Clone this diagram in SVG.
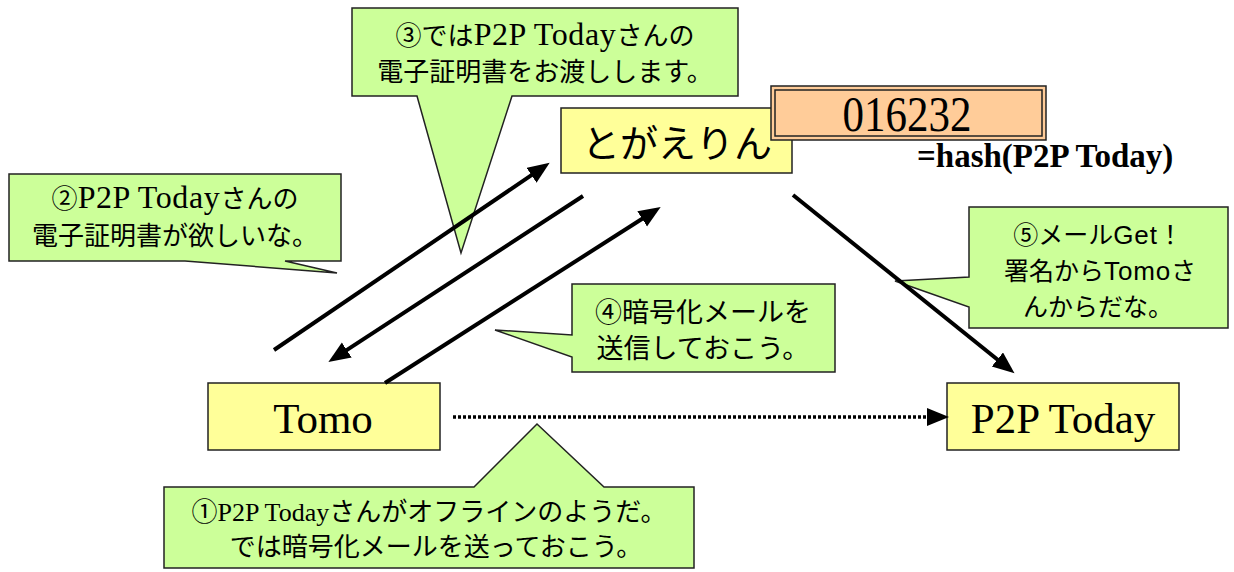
<svg xmlns="http://www.w3.org/2000/svg" width="1234" height="572" viewBox="0 0 1234 572">
<defs>
<style>
.callout{fill:#CCFF99;stroke:#222;stroke-width:1.5;stroke-linejoin:miter}
.node{fill:#FFFF99;stroke:#222;stroke-width:1.5}
.mix{font-family:"Liberation Serif","Noto Sans CJK JP",serif;font-size:26px;fill:#000;text-anchor:middle}
.wide{font-size:32px;letter-spacing:0.6px}
.jp{font-family:"Noto Sans CJK JP","Liberation Sans",sans-serif;font-size:26px;fill:#000;text-anchor:middle}
.lat{font-family:"Liberation Sans",sans-serif;font-size:26px;letter-spacing:0.8px}
.big{font-family:"Liberation Serif",serif;font-size:43px;fill:#000;text-anchor:middle}
.arrow{stroke:#000;stroke-width:4;fill:none;marker-end:url(#ah)}
.dotted{stroke:#000;stroke-width:3.5;stroke-dasharray:3 2;fill:none;marker-end:url(#ah)}
</style>
<marker id="ah" markerUnits="userSpaceOnUse" markerWidth="24" markerHeight="20" refX="8" refY="9" orient="auto">
<path d="M0,0 L22,9 L0,18 z" fill="#000"/>
</marker>
</defs>
<rect width="1234" height="572" fill="#fff"/>

<g id="callout3">
<path class="callout" d="M352,8 H738 V96 H512 L461,253 L417,96 H352 Z"/>
<text class="mix" x="545" y="45">③では<tspan class="wide">P2P Today</tspan>さんの</text>
<text class="mix" x="545" y="81">電子証明書をお渡しします。</text>
</g>

<g id="callout2">
<path class="callout" d="M9,174 H341 V261 H285 L337,273 L185,261 H9 Z"/>
<text class="mix" x="175" y="208">②<tspan class="wide">P2P Today</tspan>さんの</text>
<text class="mix" x="175" y="245">電子証明書が欲しいな。</text>
</g>

<g id="callout4">
<path class="callout" d="M572,284 H835 V372 H572 V357 L495,330 L572,335 Z"/>
<text class="jp" x="703" y="322" style="font-size:27px">④暗号化メールを</text>
<text class="jp" x="703" y="358" style="font-size:27px">送信しておこう。</text>
</g>

<g id="callout5">
<path class="callout" d="M969,207 H1228 V328 H969 V307 L895,281 L969,277 Z"/>
<text class="jp" x="1098" y="244" style="font-size:25px">⑤メール<tspan class="lat">Get</tspan>！</text>
<text class="jp" x="1100" y="280" style="font-size:25px">署名から<tspan class="lat">Tomo</tspan>さ</text>
<text class="jp" x="1098" y="316" style="font-size:25px">んからだな。</text>
</g>

<g id="callout1">
<path class="callout" d="M164,487 H474 L537,424 L604,487 H694 V568 H164 Z"/>
<text class="mix" x="429" y="521">①P2P Todayさんがオフラインのようだ。</text>
<text class="mix" x="436" y="556">では暗号化メールを送っておこう。</text>
</g>

<g id="togaerin">
<rect class="node" x="561" y="108" width="231" height="65"/>
<text class="jp" x="677" y="157" style="font-size:38px">とがえりん</text>
</g>

<g id="hash">
<rect x="771" y="86" width="275" height="54" fill="#FFCC99" stroke="#222" stroke-width="1.5"/>
<rect x="775" y="90" width="267" height="46" fill="none" stroke="#222" stroke-width="1.5"/>
<text class="big" transform="translate(907,131) scale(1,1.2)" x="0" y="0">016232</text>
<text x="917" y="167" style="font-family:'Liberation Serif',serif;font-weight:bold;font-size:33px;fill:#000">=hash(P2P Today)</text>
</g>

<g id="tomo">
<rect class="node" x="208" y="383" width="232" height="67"/>
<text class="big" x="323" y="433">Tomo</text>
</g>

<g id="p2ptoday">
<rect class="node" x="947" y="383" width="232" height="67"/>
<text class="big" x="1063" y="433">P2P Today</text>
</g>

<g id="connectors">
<line class="arrow" x1="274" y1="350" x2="538.1" y2="170.7"/>
<line class="arrow" x1="583" y1="196" x2="340.1" y2="354.4"/>
<line class="arrow" x1="385" y1="383" x2="648.9" y2="214.5"/>
<line class="arrow" x1="793" y1="195" x2="1003.6" y2="364.5"/>
<line class="dotted" x1="453" y1="417" x2="935" y2="417"/>
</g>
</svg>
